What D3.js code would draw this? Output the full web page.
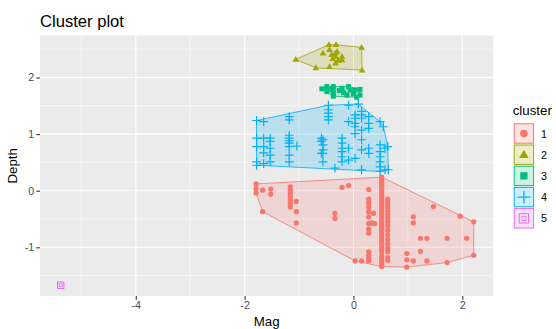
<!DOCTYPE html>
<html>
<head>
<meta charset="utf-8">
<script src="https://cdn.jsdelivr.net/npm/d3@7"></script>
<style>
  body { margin: 0; background: #fff; }
  svg { font-family: "Liberation Sans", Arial, sans-serif; }
</style>
</head>
<body>
<svg id="chart" width="556" height="329"></svg>
<script>
// cluster points as [Mag, Depth]
var cluster1 = [
  [-1.79,0.12],[-1.79,0.04],[-1.79,-0.04],[-1.67,0.01],[-1.52,0.03],[-1.52,-0.06],[-1.67,-0.37],
  [-1.16,0.07],[-1.16,0.01],[-1.16,-0.05],[-1.16,-0.11],[-1.16,-0.16],[-1.16,-0.22],[-1.16,-0.29],
  [-1.05,-0.19],[-1.05,-0.37],[-1.05,-0.57],[-0.34,-0.40],[-0.34,-0.49],[-0.21,0.06],[-0.09,0.09],
  [0.28,0.02],[0.28,-0.15],[0.28,-0.22],[0.28,-0.29],[0.28,-0.37],[0.28,-0.46],[0.28,-0.58],[0.28,-0.68],
  [0.28,-0.75],[0.28,-1.08],[0.28,-1.14],[0.28,-1.20],[0.28,-1.24],
  [0.34,-0.57],[0.39,-0.58],[0.37,-0.40],[0.03,-1.24],[0.15,-1.24],
  [0.52,0.24],[0.52,0.20],[0.52,0.16],[0.52,0.12],[0.52,0.08],[0.52,0.04],[0.52,0.00],[0.52,-0.04],
  [0.52,-0.08],[0.52,-0.12],[0.52,-0.16],[0.52,-0.20],[0.52,-0.24],[0.52,-0.28],[0.52,-0.32],[0.52,-0.36],
  [0.52,-0.40],[0.52,-0.44],[0.52,-0.48],[0.52,-0.52],[0.52,-0.56],[0.52,-0.60],[0.52,-0.64],[0.52,-0.68],
  [0.52,-0.72],[0.52,-0.76],[0.52,-0.80],[0.52,-0.84],[0.52,-0.88],[0.52,-0.92],[0.52,-0.96],[0.52,-1.00],
  [0.52,-1.04],[0.52,-1.08],[0.52,-1.15],[0.52,-1.19],[0.52,-1.23],[0.52,-1.27],[0.52,-1.31],[0.52,-1.34],
  [0.63,-0.15],[0.63,-0.20],[0.63,-0.25],[0.63,-0.30],[0.63,-0.36],[0.63,-0.42],[0.63,-0.48],[0.63,-0.55],
  [0.63,-0.62],[0.63,-0.70],[0.63,-0.78],[0.63,-0.86],[0.63,-0.94],[0.63,-1.02],[0.63,-1.08],[0.63,-1.18],
  [0.63,-1.23],[0.98,-1.11],[0.98,-1.22],[0.98,-1.35],[1.10,-0.46],[1.10,-0.57],[1.10,-1.24],
  [1.23,-0.84],[1.35,-0.84],[1.23,-1.07],[1.35,-1.24],[1.47,-0.28],[1.72,-0.84],[1.72,-1.27],
  [1.96,-0.45],[2.08,-0.84],[2.21,-0.55],[2.21,-1.14]
];
var cluster2 = [
  [-1.06,2.32],[-0.45,2.58],[-0.32,2.58],[0.15,2.53],[0.16,2.13],[-0.69,2.17],[-0.56,2.43],[-0.44,2.49],
  [-0.40,2.40],[-0.33,2.43],[-0.33,2.37],[-0.21,2.37],[-0.21,2.31],[-0.33,2.25],[-0.44,2.19],[-0.38,2.33],
  [-0.28,2.30],[-0.30,2.46]
];
var cluster3 = [
  [-0.58,1.80],[-0.49,1.84],[-0.49,1.75],[-0.37,1.84],[-0.37,1.75],[-0.37,1.67],[-0.21,1.81],[-0.18,1.73],
  [-0.12,1.69],[-0.06,1.78],[0.00,1.71],[0.03,1.78],[0.12,1.79],[0.12,1.69],[-0.40,1.79],[-0.26,1.77],
  [0.06,1.65],[-0.09,1.84]
];
var cluster4 = [
  [-1.78,1.24],[-1.78,0.93],[-1.78,0.78],[-1.78,0.51],[-1.78,0.45],
  [-1.65,1.22],[-1.65,0.93],[-1.65,0.78],[-1.65,0.67],[-1.65,0.48],
  [-1.53,0.93],[-1.53,0.87],[-1.53,0.75],[-1.53,0.63],[-1.53,0.51],
  [-1.18,1.31],[-1.18,1.25],[-1.18,0.98],[-1.18,0.93],[-1.18,0.88],[-1.18,0.84],[-1.18,0.78],[-1.18,0.63],[-1.18,0.51],
  [-1.04,0.79],[-0.59,0.93],[-0.59,0.87],[-0.59,0.66],
  [-0.56,0.90],[-0.56,0.81],[-0.56,0.72],[-0.56,0.66],[-0.56,0.51],
  [-0.46,1.51],[-0.46,1.43],[-0.46,1.37],[-0.46,1.31],[-0.46,1.25],[-0.34,0.40],
  [-0.21,0.93],[-0.21,0.84],[-0.21,0.75],[-0.21,0.69],[-0.21,0.60],[-0.21,0.51],
  [-0.09,1.51],[-0.09,1.22],[-0.09,0.75],[-0.09,0.54],
  [0.03,1.34],[0.03,1.28],[0.03,1.19],[0.03,1.13],[0.03,1.01],[0.03,0.57],
  [0.15,1.40],[0.15,1.34],[0.15,1.28],[0.15,1.07],[0.15,0.90],[0.15,0.72],[0.15,0.37],
  [0.28,1.31],[0.28,1.19],[0.28,1.10],[0.28,0.75],[0.28,0.66],
  [0.49,1.22],[0.49,0.81],[0.49,0.69],[0.49,0.60],[0.49,0.51],[0.49,0.42],[0.49,0.34],
  [0.58,0.75],[0.58,0.37],[0.09,1.53],[0.55,1.13],[0.63,0.78],[0.64,0.37]
];
var cluster5 = [[-5.38,-1.67]];

var clusterNames = ["1", "2", "3", "4", "5"];
var clusterColors = ["#F8766D", "#A3A500", "#00BF7D", "#00B0F6", "#E76BF3"];
var clusterShapes = ["circle", "triangle", "square", "plus", "squarecross"];
var xTicks = [-4, -2, 0, 2];
var yTicks = [-1, 0, 1, 2];
var xMinor = [-5, -3, -1, 1];
var yMinor = [-1.5, -0.5, 0.5, 1.5, 2.5];

var clusters = [cluster1, cluster2, cluster3, cluster4, cluster5];

var panel = { left: 40, right: 493.3, top: 35.6, bottom: 296 };
var x = d3.scaleLinear().domain([-5.76, 2.57]).range([panel.left, panel.right]);
var y = d3.scaleLinear().domain([-1.86, 2.74]).range([panel.bottom, panel.top]);

var svg = d3.select("#chart");

svg.append("rect")
  .attr("x", panel.left).attr("y", panel.top)
  .attr("width", panel.right - panel.left).attr("height", panel.bottom - panel.top)
  .attr("fill", "#EBEBEB");

var grid = svg.append("g");
grid.selectAll(".xminor").data(xMinor).enter().append("line")
  .attr("x1", d => x(d)).attr("x2", d => x(d)).attr("y1", panel.top).attr("y2", panel.bottom)
  .attr("stroke", "#fff").attr("stroke-width", 0.55);
grid.selectAll(".yminor").data(yMinor).enter().append("line")
  .attr("y1", d => y(d)).attr("y2", d => y(d)).attr("x1", panel.left).attr("x2", panel.right)
  .attr("stroke", "#fff").attr("stroke-width", 0.55);
grid.selectAll(".xmajor").data(xTicks).enter().append("line")
  .attr("x1", d => x(d)).attr("x2", d => x(d)).attr("y1", panel.top).attr("y2", panel.bottom)
  .attr("stroke", "#fff").attr("stroke-width", 1.1);
grid.selectAll(".ymajor").data(yTicks).enter().append("line")
  .attr("y1", d => y(d)).attr("y2", d => y(d)).attr("x1", panel.left).attr("x2", panel.right)
  .attr("stroke", "#fff").attr("stroke-width", 1.1);

// convex hulls
clusters.forEach(function (pts, i) {
  var px = pts.map(p => [x(p[0]), y(p[1])]);
  var hull = px.length >= 3 ? d3.polygonHull(px) : px;
  svg.append("path")
    .attr("d", "M" + hull.join("L") + "Z")
    .attr("fill", clusterColors[i]).attr("fill-opacity", 0.2)
    .attr("stroke", clusterColors[i]).attr("stroke-width", 0.8);
});

function drawShape(g, shape, cx, cy, color, s) {
  if (shape === "circle") {
    g.append("circle").attr("cx", cx).attr("cy", cy).attr("r", 2.6 * s).attr("fill", color);
  } else if (shape === "triangle") {
    var r = 3.5 * s;
    g.append("path")
      .attr("d", "M" + cx + "," + (cy - r) + "L" + (cx + r * 0.95) + "," + (cy + r * 0.65) + "L" + (cx - r * 0.95) + "," + (cy + r * 0.65) + "Z")
      .attr("fill", color);
  } else if (shape === "square") {
    var h = 2.5 * s;
    g.append("rect").attr("x", cx - h).attr("y", cy - h).attr("width", 2 * h).attr("height", 2 * h).attr("fill", color);
  } else if (shape === "plus") {
    var a = 4.4 * s;
    g.append("path").attr("d", "M" + (cx - a) + "," + cy + "H" + (cx + a) + "M" + cx + "," + (cy - a) + "V" + (cy + a))
      .attr("stroke", color).attr("stroke-width", 1.2).attr("fill", "none");
  } else {
    var q = 3.2 * s;
    g.append("rect").attr("x", cx - q).attr("y", cy - q).attr("width", 2 * q).attr("height", 2 * q)
      .attr("stroke", color).attr("stroke-width", 1).attr("fill", "none");
    g.append("rect").attr("x", cx - q * 0.45).attr("y", cy - q * 0.45).attr("width", q * 0.9).attr("height", q * 0.9)
      .attr("stroke", color).attr("stroke-width", 0.8).attr("fill", "none");
  }
}

var pointLayer = svg.append("g");
clusters.forEach(function (pts, i) {
  pts.forEach(function (p) {
    drawShape(pointLayer, clusterShapes[i], x(p[0]), y(p[1]), clusterColors[i], 1);
  });
});

// axes
var xAxis = svg.append("g").attr("transform", "translate(0," + panel.bottom + ")")
  .call(d3.axisBottom(x).tickValues(xTicks).tickSize(3.7).tickPadding(2).tickFormat(d3.format("d")));
var yAxis = svg.append("g").attr("transform", "translate(" + panel.left + ",0)")
  .call(d3.axisLeft(y).tickValues(yTicks).tickSize(3.7).tickPadding(2).tickFormat(d3.format("d")));
[xAxis, yAxis].forEach(function (a) {
  a.select(".domain").remove();
  a.selectAll(".tick line").attr("stroke", "#333").attr("stroke-width", 1.1);
  a.selectAll(".tick text").attr("fill", "#4D4D4D").style("font-size", "10.7px")
    .style("font-family", "'Liberation Sans', Arial, sans-serif");
});
xAxis.selectAll(".tick text").text(d => d < 0 ? "-" + Math.abs(d) : d);
yAxis.selectAll(".tick text").text(d => d < 0 ? "-" + Math.abs(d) : d);

svg.append("text").attr("x", (panel.left + panel.right) / 2).attr("y", 326)
  .attr("text-anchor", "middle").style("font-size", "13.3px").attr("fill", "#000").text("Mag");
svg.append("text").attr("transform", "translate(17," + ((panel.top + panel.bottom) / 2) + ") rotate(-90)")
  .attr("text-anchor", "middle").style("font-size", "13.3px").attr("fill", "#000").text("Depth");

svg.append("text").attr("x", 40).attr("y", 26.5)
  .style("font-size", "16.6px").attr("fill", "#000").text("Cluster plot");

// legend
var legend = svg.append("g");
legend.append("text").attr("x", 512.7).attr("y", 115).style("font-size", "13.3px").attr("fill", "#000").text("cluster");
clusterNames.forEach(function (name, i) {
  var ky = 123.3 + i * 21.2, kx = 513.7, ks = 20.4;
  legend.append("rect").attr("x", kx).attr("y", ky).attr("width", ks).attr("height", ks)
    .attr("fill", "#fff");
  legend.append("rect").attr("x", kx + 0.5).attr("y", ky + 0.5).attr("width", ks - 1).attr("height", ks - 1)
    .attr("fill", clusterColors[i]).attr("fill-opacity", 0.2)
    .attr("stroke", clusterColors[i]).attr("stroke-width", 1);
  drawShape(legend, clusterShapes[i], kx + ks / 2, ky + ks / 2, clusterColors[i], 1.45);
  legend.append("text").attr("x", 541).attr("y", ky + ks / 2 + 4)
    .style("font-size", "10.7px").attr("fill", "#000").text(name);
});
</script>
</body>
</html>
